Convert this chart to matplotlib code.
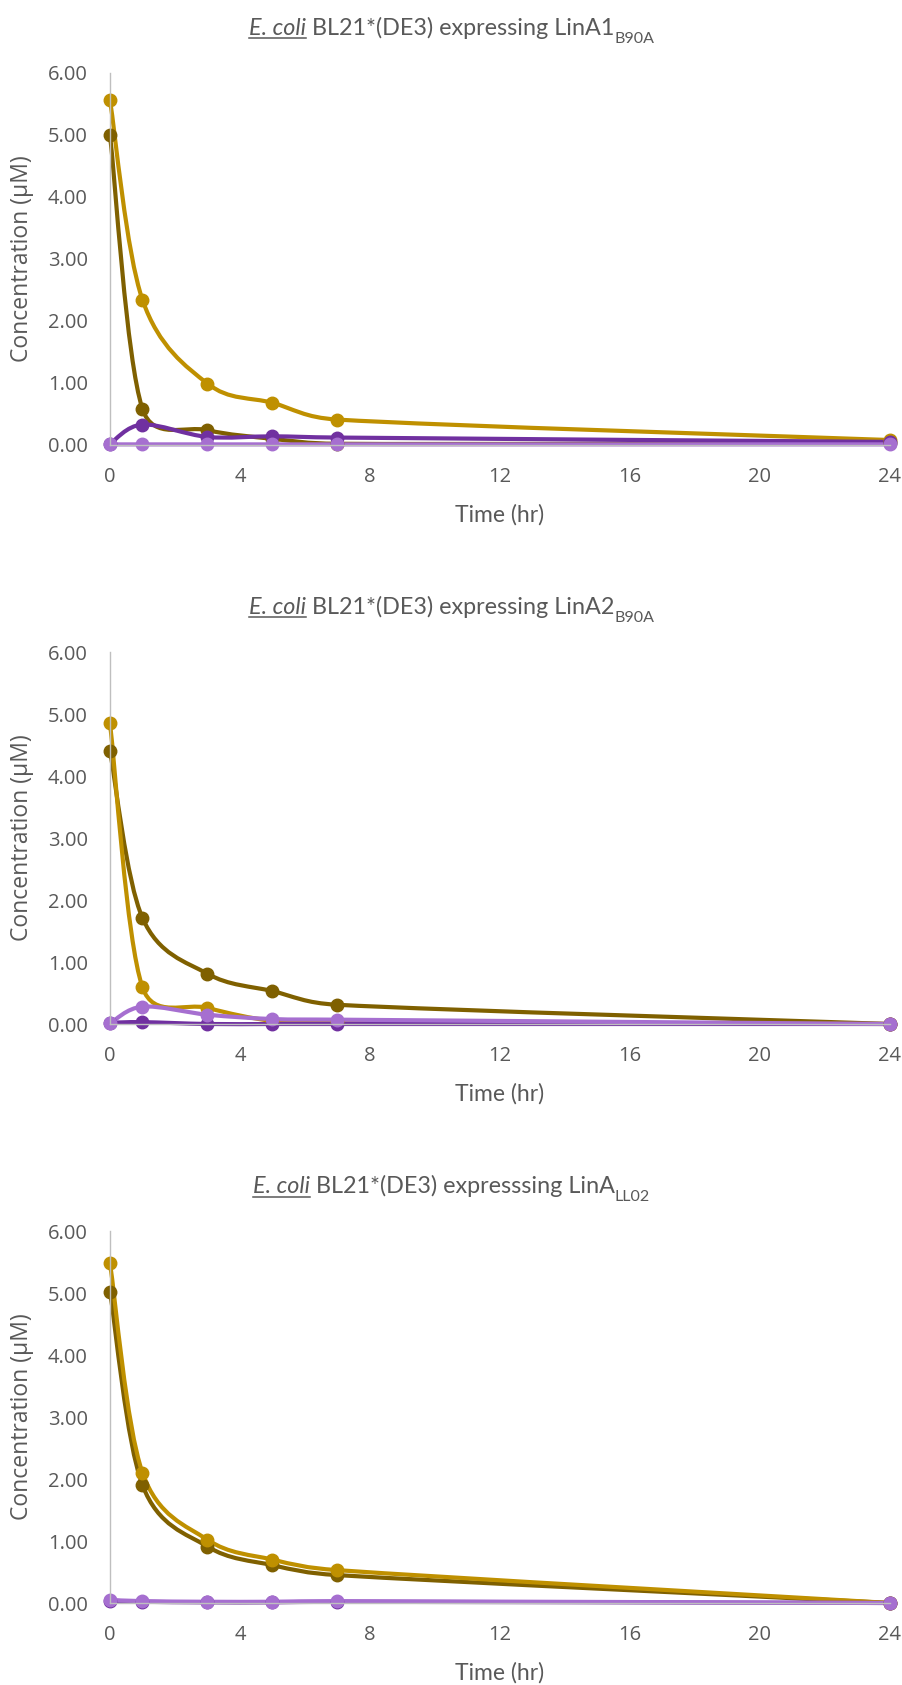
import numpy as np
import matplotlib
matplotlib.use("Agg")
import matplotlib.pyplot as plt
from matplotlib.path import Path
from matplotlib.patches import PathPatch
from matplotlib.lines import Line2D

plt.rcParams['font.family'] = ['Lato', 'DejaVu Sans']

# ---- data ----
time_hr = [0, 1, 3, 5, 7, 24]

# panel 1: LinA1 B90A
p1_brown = [5.00, 0.58, 0.24, 0.10, 0.02, 0.03]
p1_gold = [5.56, 2.34, 0.99, 0.68, 0.41, 0.08]
p1_purple = [0.02, 0.33, 0.13, 0.14, 0.12, 0.05]
p1_lilac = [0.01, 0.01, 0.01, 0.01, 0.01, 0.01]

# panel 2: LinA2 B90A
p2_brown = [4.40, 1.71, 0.81, 0.53, 0.31, 0.00]
p2_gold = [4.85, 0.59, 0.26, 0.05, 0.03, 0.00]
p2_purple = [0.02, 0.03, 0.00, 0.00, 0.00, 0.00]
p2_lilac = [0.01, 0.28, 0.15, 0.08, 0.07, 0.00]

# panel 3: LinA LL02
p3_brown = [5.02, 1.90, 0.91, 0.61, 0.45, 0.00]
p3_gold = [5.48, 2.10, 1.02, 0.70, 0.53, 0.00]
p3_purple = [0.04, 0.02, 0.01, 0.01, 0.02, 0.00]
p3_lilac = [0.05, 0.03, 0.02, 0.02, 0.03, 0.00]

panel_titles = [("E. coli", " BL21*(DE3) expressing LinA1", "B90A"),
                ("E. coli", " BL21*(DE3) expressing LinA2", "B90A"),
                ("E. coli", " BL21*(DE3) expresssing LinA", "LL02")]

colors = ['#7F6000', '#BF9000', '#7030A0', '#A66FD0']
text_col = '#595959'

W, H = 903, 1685
fig = plt.figure(figsize=(W / 100, H / 100), dpi=100)
renderer = fig.canvas.get_renderer()


def smooth_path(ax, x, y):
    # excel-style smoothed line: bezier, tangent 1/6 capped at half the segment
    pts = ax.transData.transform(np.column_stack([x, y]).astype(float))
    n = len(pts)
    verts = [pts[0]]
    codes = [Path.MOVETO]
    for i in range(n - 1):
        p0 = pts[i - 1] if i > 0 else pts[i]
        p1, p2 = pts[i], pts[i + 1]
        p3 = pts[i + 2] if i + 2 < n else pts[i + 1]
        d02 = np.hypot(*(p2 - p0))
        d13 = np.hypot(*(p3 - p1))
        d12 = np.hypot(*(p2 - p1))
        f0 = 1 / 6 if d02 / 6 < d12 / 2 else d12 / 2 / d02
        f1 = 1 / 6 if d13 / 6 < d12 / 2 else d12 / 2 / d13
        verts += [p1 + f0 * (p2 - p0), p2 - f1 * (p3 - p1), p2]
        codes += [Path.CURVE4] * 3
    verts = ax.transData.inverted().transform(np.array(verts))
    return Path(verts, codes)


def draw_title(y_base_px, italic_part, main_part, sub_part):
    yb = 1 - y_base_px / H
    fs = 16.8
    t1 = fig.text(0, yb, italic_part, fontsize=fs, style='italic', color=text_col, va='baseline')
    t2 = fig.text(0, yb, main_part, fontsize=fs, color=text_col, va='baseline')
    t3 = fig.text(0, yb - 8 / H, sub_part, fontsize=11.5, color=text_col, va='baseline')
    w = [t.get_window_extent(renderer).width for t in (t1, t2, t3)]
    x0 = (W - sum(w)) / 2
    t1.set_x(x0 / W)
    t2.set_x((x0 + w[0]) / W)
    t3.set_x((x0 + w[0] + w[1]) / W)
    uy = 1 - (y_base_px + 3.5) / H
    fig.add_artist(Line2D([x0 / W, (x0 + w[0]) / W], [uy, uy], color=text_col, lw=1.1))


panels = [
    (p1_brown, p1_gold, p1_purple, p1_lilac),
    (p2_brown, p2_gold, p2_purple, p2_lilac),
    (p3_brown, p3_gold, p3_purple, p3_lilac),
]

ax_left, ax_right = 110, 890
tops = [73, 652, 1231]
ax_h = 372

for k, series in enumerate(panels):
    top = tops[k]
    ax = fig.add_axes([ax_left / W, 1 - (top + ax_h) / H, (ax_right - ax_left) / W, ax_h / H])
    ax.set_xlim(0, 24)
    ax.set_ylim(0, 6)
    for vals, c in zip(series, colors):
        ax.add_patch(PathPatch(smooth_path(ax, time_hr, vals), facecolor='none', edgecolor=c,
                               lw=3.0, capstyle='round', joinstyle='round', clip_on=False))
        ax.plot(time_hr, vals, 'o', color=c, ms=9, mec=c, clip_on=False)

    ax.set_xticks(range(0, 25, 4))
    ax.set_yticks(range(0, 7))
    ax.set_yticklabels([f"{v:.2f}" for v in range(0, 7)])
    ax.tick_params(length=0, labelsize=14.5, labelcolor=text_col)
    ax.tick_params(axis='x', pad=16)
    ax.tick_params(axis='y', pad=16)
    for lab in ax.get_xticklabels() + ax.get_yticklabels():
        lab.set_family(['Open Sans', 'DejaVu Sans'])
    for s in ['top', 'right']:
        ax.spines[s].set_visible(False)
    ax.spines['left'].set_color('#BFBFBF')
    ax.spines['bottom'].set_color('#BFBFBF')
    ax.spines['left'].set_linewidth(1)
    ax.spines['bottom'].set_linewidth(1)
    ax.set_zorder(1)

    fig.text(0.5 * (ax_left + ax_right) / W, 1 - (top + 442) / H, "Time (hr)",
             fontsize=16.5, color=text_col, ha='center', va='center')
    fig.text(22 / W, 1 - (top + ax_h / 2) / H, "Concentration (µM)", fontsize=16.5,
             family=['Open Sans', 'DejaVu Sans'],
             color=text_col, ha='center', va='center', rotation=90)

    it, mn, sb = panel_titles[k]
    draw_title(top - 38, it, mn, sb)

fig.savefig("out.png", dpi=100)
